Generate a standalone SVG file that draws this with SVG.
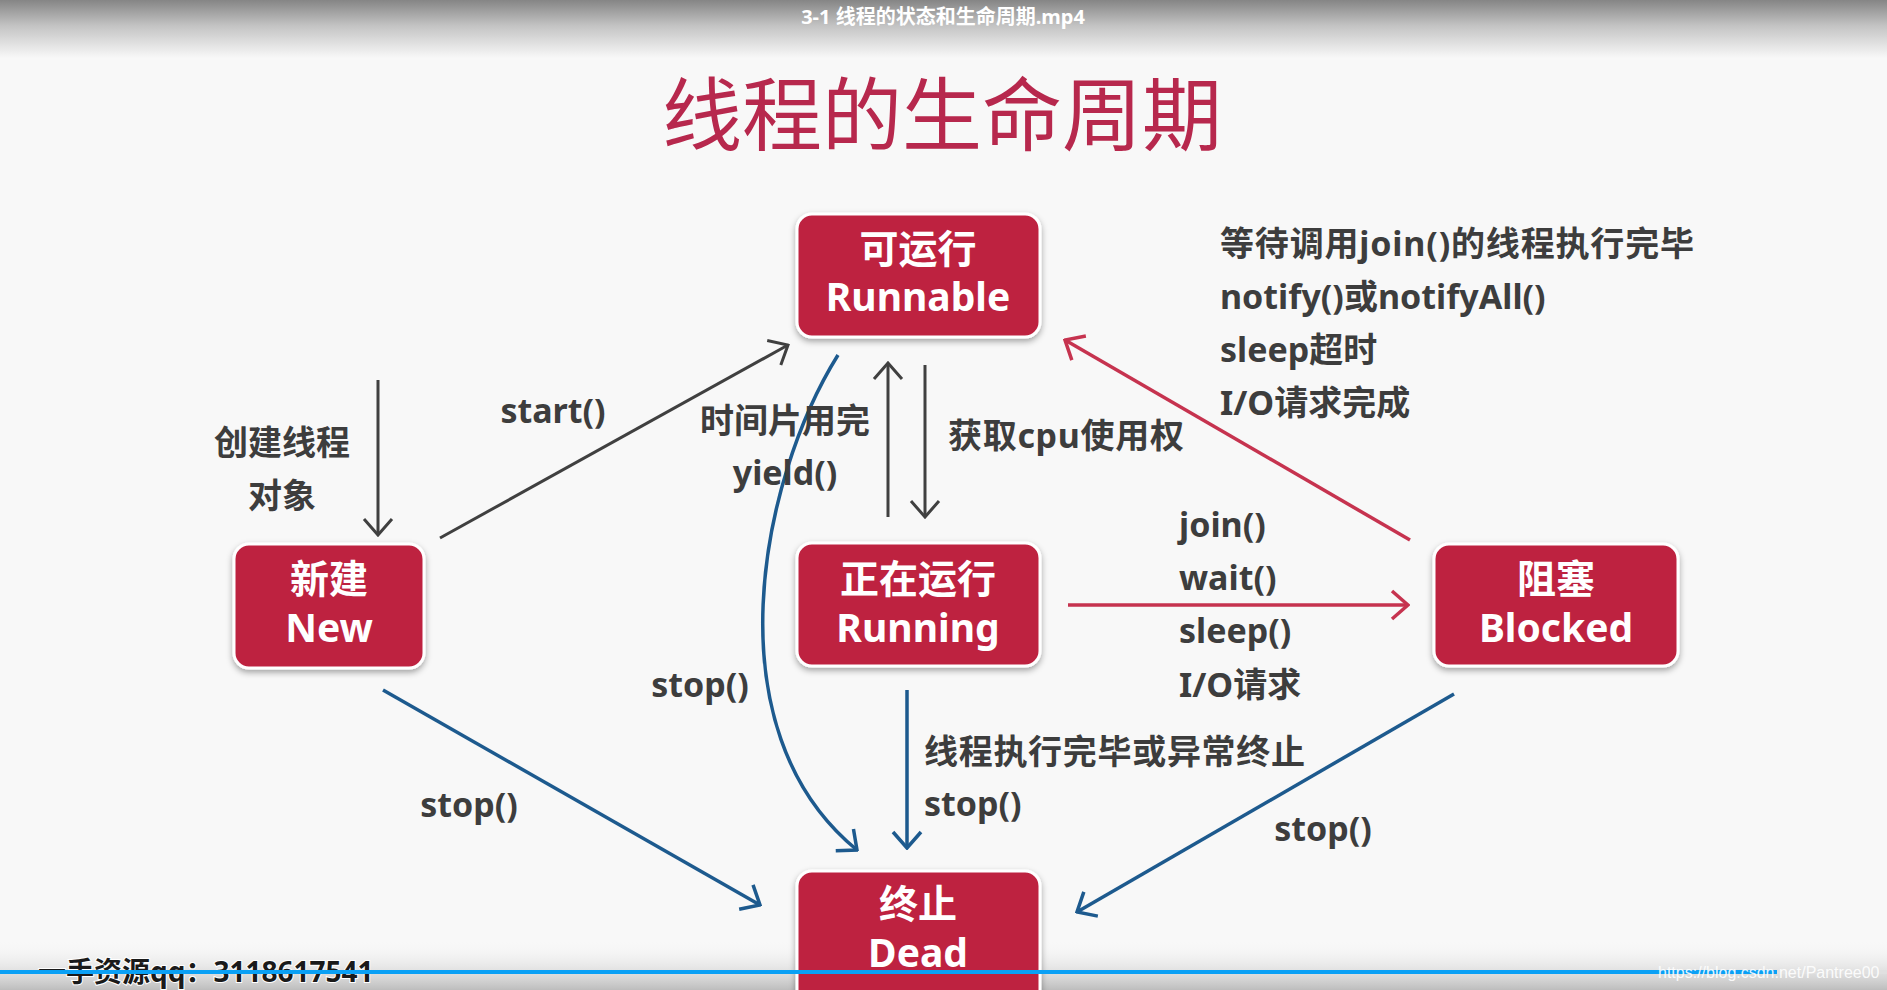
<svg xmlns="http://www.w3.org/2000/svg" width="1887" height="990" viewBox="0 0 1887 990">
  <defs>
    <linearGradient id="topGrad" x1="0" y1="0" x2="0" y2="1">
      <stop offset="0" stop-color="#858585"/>
      <stop offset="0.45" stop-color="#c4c4c4"/>
      <stop offset="1" stop-color="#f8f8f8"/>
    </linearGradient>
    <linearGradient id="botGrad" x1="0" y1="0" x2="0" y2="1">
      <stop offset="0" stop-color="#f8f8f8" stop-opacity="0"/>
      <stop offset="1" stop-color="#bdbdbd"/>
    </linearGradient>
    <filter id="shadow" x="-10%" y="-10%" width="120%" height="130%">
      <feDropShadow dx="0" dy="3" stdDeviation="3" flood-color="#000" flood-opacity="0.35"/>
    </filter>
    <marker id="arrGray" viewBox="0 0 20 32" refX="18" refY="16" markerWidth="20" markerHeight="32" markerUnits="userSpaceOnUse" orient="auto">
      <path d="M2,2 L18,16 L2,30" fill="none" stroke="#404040" stroke-width="3"/>
    </marker>
    <marker id="arrBlue" viewBox="0 0 20 32" refX="18" refY="16" markerWidth="20" markerHeight="32" markerUnits="userSpaceOnUse" orient="auto">
      <path d="M2,2 L18,16 L2,30" fill="none" stroke="#1d5a8e" stroke-width="3.5"/>
    </marker>
    <marker id="arrRed" viewBox="0 0 20 32" refX="18" refY="16" markerWidth="20" markerHeight="32" markerUnits="userSpaceOnUse" orient="auto">
      <path d="M2,2 L18,16 L2,30" fill="none" stroke="#c6334f" stroke-width="3.5"/>
    </marker>
  </defs>
  <style>
    .box { fill: #be2141; stroke: #ffffff; stroke-width: 3; filter: url(#shadow); }
    .bt { font-family: "Noto Sans", "Noto Sans CJK SC", sans-serif; font-size: 39px; font-weight: bold; fill: #ffffff; text-anchor: middle; }
    .lbl { font-family: "Noto Sans", "Noto Sans CJK SC", sans-serif; font-size: 34px; font-weight: bold; fill: #3d3d3d; }
    .mid { text-anchor: middle; }
    .gray { fill: none; stroke: #404040; stroke-width: 3; marker-end: url(#arrGray); }
    .blue { fill: none; stroke: #1d5a8e; stroke-width: 3.5; marker-end: url(#arrBlue); }
    .red { fill: none; stroke: #c6334f; stroke-width: 3.5; marker-end: url(#arrRed); }
  </style>

  <rect x="0" y="0" width="1887" height="990" fill="#f8f8f8"/>
  <rect x="0" y="0" width="1887" height="58" fill="url(#topGrad)"/>
  <rect x="0" y="940" width="1887" height="50" fill="url(#botGrad)"/>
  <text x="943" y="24" font-family="Noto Sans, Noto Sans CJK SC, sans-serif" font-size="20" font-weight="bold" fill="#ffffff" text-anchor="middle">3-1 线程的状态和生命周期.mp4</text>

  <text x="942" y="144" font-family="Noto Sans CJK SC, sans-serif" font-size="80" fill="#b7284d" text-anchor="middle">线程的生命周期</text>

  <g id="connectors">
    <line class="gray" x1="378" y1="380" x2="378" y2="535"/>
    <line class="gray" x1="440" y1="538" x2="788" y2="345"/>
    <line class="gray" x1="888" y1="517" x2="888" y2="363"/>
    <line class="gray" x1="925" y1="365" x2="925" y2="517"/>
    <path class="blue" d="M838,355 C760,480 710,730 857,850"/>
    <line class="blue" x1="907" y1="690" x2="907" y2="848"/>
    <line class="blue" x1="383" y1="690" x2="760" y2="905"/>
    <line class="blue" x1="1454" y1="694" x2="1077" y2="912"/>
    <line class="red" x1="1068" y1="605" x2="1408" y2="605"/>
    <line class="red" x1="1410" y1="540" x2="1065" y2="340"/>
  </g>

  <g id="labels">
    <text class="lbl mid" x="282" y="455">创建线程</text>
    <text class="lbl mid" x="282" y="508">对象</text>
    <text class="lbl mid" x="553" y="423">start()</text>
    <text class="lbl mid" x="785" y="433">时间片用完</text>
    <text class="lbl mid" x="785" y="485">yield()</text>
    <text class="lbl" x="948" y="448" textLength="236">获取cpu使用权</text>
    <text class="lbl" x="1220" y="256" textLength="474">等待调用join()的线程执行完毕</text>
    <text class="lbl" x="1220" y="309">notify()或notifyAll()</text>
    <text class="lbl" x="1220" y="362">sleep超时</text>
    <text class="lbl" x="1220" y="415">I/O请求完成</text>
    <text class="lbl" x="1179" y="537">join()</text>
    <text class="lbl" x="1179" y="590">wait()</text>
    <text class="lbl" x="1179" y="643">sleep()</text>
    <text class="lbl" x="1179" y="697">I/O请求</text>
    <text class="lbl mid" x="700" y="697">stop()</text>
    <text class="lbl" x="924" y="764" textLength="381">线程执行完毕或异常终止</text>
    <text class="lbl" x="924" y="816">stop()</text>
    <text class="lbl mid" x="469" y="817">stop()</text>
    <text class="lbl mid" x="1323" y="841">stop()</text>
  </g>

  <g id="node-runnable">
    <rect class="box" x="797" y="214" width="243" height="123" rx="15"/>
    <text class="bt" x="918" y="263">可运行</text>
    <text class="bt" x="918" y="311">Runnable</text>
  </g>
  <g id="node-new">
    <rect class="box" x="234" y="544" width="190" height="124" rx="15"/>
    <text class="bt" x="329" y="593">新建</text>
    <text class="bt" x="329" y="642">New</text>
  </g>
  <g id="node-running">
    <rect class="box" x="797" y="543" width="243" height="123" rx="15"/>
    <text class="bt" x="918" y="593">正在运行</text>
    <text class="bt" x="918" y="642">Running</text>
  </g>
  <g id="node-blocked">
    <rect class="box" x="1434" y="544" width="244" height="122" rx="15"/>
    <text class="bt" x="1556" y="593">阻塞</text>
    <text class="bt" x="1556" y="642">Blocked</text>
  </g>
  <g id="node-dead">
    <rect class="box" x="797" y="871" width="243" height="140" rx="15"/>
    <text class="bt" x="918" y="918">终止</text>
    <text class="bt" x="918" y="967">Dead</text>
  </g>

  <text x="38" y="982" font-family="Noto Sans, Noto Sans CJK SC, sans-serif" font-size="28" font-weight="bold" fill="#1a1a1a" stroke="#ffffff" stroke-width="2" paint-order="stroke">一手资源qq：3118617541</text>
  <line x1="0" y1="972" x2="1777" y2="972" stroke="#0aa0f5" stroke-width="4"/>
  <line x1="1777" y1="972" x2="1887" y2="972" stroke="#e0e0e0" stroke-width="4"/>
  <text x="1658" y="978" font-family="Liberation Sans, sans-serif" font-size="16" fill="#ffffff" fill-opacity="0.9">https://blog.csdn.net/Pantree00</text>
</svg>
